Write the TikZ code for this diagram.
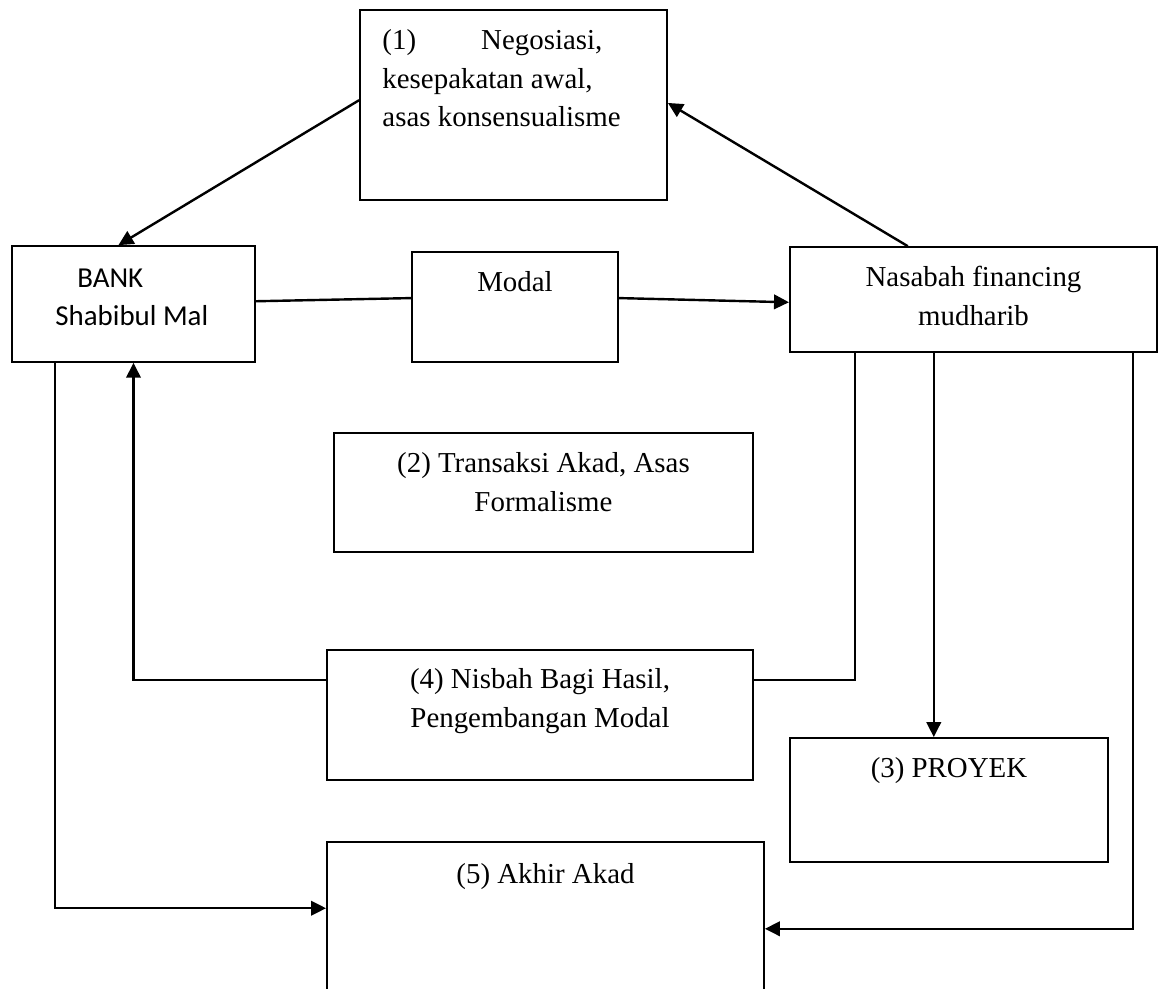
\documentclass[tikz,border=0pt]{standalone}
\usepackage{fontspec}
\setmainfont{Liberation Serif}
\newfontfamily\calibri{Carlito}
\usepackage{tikz}
\usetikzlibrary{arrows.meta,positioning}

\begin{document}
\begin{tikzpicture}[
    box/.style={rectangle, draw, line width=0.8pt, inner sep=0pt},
    txt/.style={inner sep=0pt, font=\fontsize{12}{16}\selectfont, align=center},
    link/.style={line width=1pt},
    >={Triangle[length=6.2pt,width=6pt]}
]
    \useasboundingbox (0,0) rectangle (16.965,-14.425);

    % Boxes
    \node[box, minimum width=4.48cm, minimum height=2.77cm] (neg) at (7.497,-1.533) {};
    \node[box, minimum width=3.55cm, minimum height=1.69cm] (bank) at (1.949,-4.438) {};
    \node[box, minimum width=3.01cm, minimum height=1.61cm] (modal) at (7.519,-4.482) {};
    \node[box, minimum width=5.36cm, minimum height=1.53cm] (nas) at (14.213,-4.373) {};
    \node[box, minimum width=6.12cm, minimum height=1.74cm] (akad) at (7.935,-7.191) {};
    \node[box, minimum width=6.22cm, minimum height=1.90cm] (nisbah) at (7.884,-10.439) {};
    \node[box, minimum width=4.64cm, minimum height=1.81cm] (proyek) at (13.855,-11.680) {};
    \node[box, minimum width=6.38cm, minimum height=2.23cm] (akhir) at (7.964,-13.410) {};

    % Texts
    \node[txt, anchor=north west, align=left] (negtxt) at (5.577,-0.423) {(1)\hspace*{0.95cm}Negosiasi,\\kesepakatan awal,\\asas konsensualisme};
    \node[txt, anchor=north west, align=left, font=\calibri\fontsize{12}{16}\selectfont] (banktxt) at (0.803,-3.913) {\hspace*{0.32cm}BANK\\Shabibul Mal};
    \node[txt, anchor=north] (modaltxt) at (7.519,-3.957) {Modal};
    \node[txt, anchor=north] (nastxt) at (14.213,-3.884) {Nasabah financing\\mudharib};
    \node[txt, anchor=north] (akadtxt) at (7.935,-6.599) {(2) Transaksi Akad, Asas\\Formalisme};
    \node[txt, anchor=north] (nisbahtxt) at (7.884,-9.753) {(4) Nisbah Bagi Hasil,\\Pengembangan Modal};
    \node[txt, anchor=north] (proyektxt) at (13.855,-11.052) {(3) PROYEK};
    \node[txt, anchor=north] (akhirtxt) at (7.964,-12.600) {(5) Akhir Akad};

    % Negotiation
    \draw[link, ->] ([yshift=0.07cm]neg.west) -- ([xshift=-0.22cm]bank.north);
    \draw[link, ->] ([xshift=-0.96cm]nas.north) -- ([yshift=0.03cm]neg.east);

    % Capital flow
    \draw[link] ([yshift=0.04cm]bank.east) -- ([yshift=0.13cm]modal.west);
    \draw[link, ->] ([yshift=0.13cm]modal.east) -- ([yshift=-0.04cm]nas.west);

    % Profit sharing back to the bank
    \draw[link] ([xshift=-1.73cm]nas.south) |- ([yshift=0.51cm]nisbah.east);
    \draw[link, ->] ([yshift=0.51cm]nisbah.west) -| (bank.south);

    % Project and end of contract
    \draw[link, ->] ([xshift=-0.58cm]nas.south) -- ([xshift=-0.58cm]nas.south |- proyek.north);
    \draw[link, ->] ([xshift=2.33cm]nas.south) |- ([yshift=-0.15cm]akhir.east);
    \draw[link, ->] ([xshift=-1.15cm]bank.south) |- ([yshift=0.15cm]akhir.west);
\end{tikzpicture}
\end{document}
